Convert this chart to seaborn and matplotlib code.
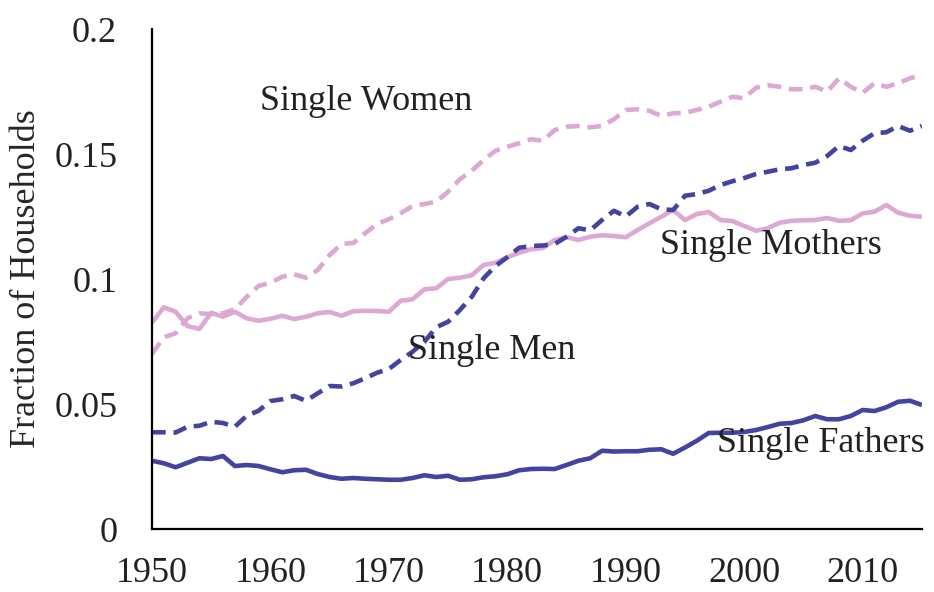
import matplotlib
matplotlib.use("Agg")
import matplotlib.pyplot as plt
import numpy as np
import pandas as pd
import seaborn as sns

# Values, one per year 1950-2015
years = list(range(1950, 2016))

single_fathers = [
    0.0273, 0.0263, 0.0247, 0.0265, 0.0283, 0.0280, 0.0292, 0.0252, 0.0256, 0.0252,
    0.0239, 0.0227, 0.0235, 0.0237, 0.0220, 0.0208, 0.0201, 0.0204, 0.0201, 0.0199,
    0.0197, 0.0197, 0.0204, 0.0215, 0.0208, 0.0213, 0.0197, 0.0199, 0.0207, 0.0211,
    0.0219, 0.0235, 0.0240, 0.0241, 0.0240, 0.0256, 0.0273, 0.0283, 0.0313, 0.0310,
    0.0311, 0.0311, 0.0317, 0.0319, 0.0301, 0.0326, 0.0353, 0.0384, 0.0385, 0.0385,
    0.0388, 0.0396, 0.0408, 0.0421, 0.0424, 0.0435, 0.0452, 0.0439, 0.0439, 0.0452,
    0.0476, 0.0472, 0.0487, 0.0509, 0.0513, 0.0496,
]

single_men = [
    0.0387, 0.0387, 0.0386, 0.0409, 0.0413, 0.0429, 0.0424, 0.0409, 0.0453, 0.0473,
    0.0512, 0.0519, 0.0532, 0.0513, 0.0543, 0.0572, 0.0570, 0.0583, 0.0603, 0.0625,
    0.0640, 0.0676, 0.0709, 0.0749, 0.0807, 0.0829, 0.0876, 0.0929, 0.1003, 0.1052,
    0.1087, 0.1125, 0.1132, 0.1134, 0.1140, 0.1169, 0.1203, 0.1195, 0.1236, 0.1273,
    0.1250, 0.1289, 0.1300, 0.1279, 0.1276, 0.1333, 0.1340, 0.1353, 0.1376, 0.1391,
    0.1404, 0.1420, 0.1429, 0.1439, 0.1443, 0.1456, 0.1465, 0.1492, 0.1532, 0.1516,
    0.1553, 0.1583, 0.1587, 0.1612, 0.1593, 0.1612,
]

single_mothers = [
    0.0825, 0.0887, 0.0869, 0.0812, 0.0800, 0.0865, 0.0849, 0.0869, 0.0843, 0.0833,
    0.0841, 0.0853, 0.0840, 0.0849, 0.0863, 0.0868, 0.0853, 0.0871, 0.0873, 0.0872,
    0.0869, 0.0913, 0.0919, 0.0959, 0.0963, 0.1000, 0.1005, 0.1015, 0.1056, 0.1065,
    0.1087, 0.1105, 0.1119, 0.1124, 0.1156, 0.1167, 0.1156, 0.1169, 0.1175, 0.1172,
    0.1167, 0.1196, 0.1223, 0.1249, 0.1276, 0.1236, 0.1260, 0.1268, 0.1236, 0.1232,
    0.1212, 0.1193, 0.1203, 0.1225, 0.1233, 0.1235, 0.1236, 0.1244, 0.1233, 0.1235,
    0.1263, 0.1269, 0.1296, 0.1265, 0.1253, 0.1249,
]

single_women = [
    0.0700, 0.0767, 0.0783, 0.0843, 0.0863, 0.0859, 0.0863, 0.0879, 0.0929, 0.0972,
    0.0985, 0.1009, 0.1019, 0.1005, 0.1036, 0.1096, 0.1140, 0.1144, 0.1183, 0.1220,
    0.1239, 0.1263, 0.1292, 0.1300, 0.1309, 0.1349, 0.1399, 0.1433, 0.1476, 0.1513,
    0.1529, 0.1543, 0.1559, 0.1553, 0.1596, 0.1609, 0.1612, 0.1607, 0.1612, 0.1639,
    0.1676, 0.1679, 0.1673, 0.1652, 0.1663, 0.1665, 0.1676, 0.1689, 0.1709, 0.1729,
    0.1723, 0.1765, 0.1775, 0.1769, 0.1759, 0.1759, 0.1769, 0.1749, 0.1803, 0.1769,
    0.1745, 0.1783, 0.1769, 0.1783, 0.1803, 0.1816,
]

y_ticks = [0, 0.05, 0.1, 0.15, 0.2]
y_tick_labels = ["0", "0.05", "0.1", "0.15", "0.2"]
x_ticks = [1950, 1960, 1970, 1980, 1990, 2000, 2010]

blue = "#4444a0"
pink = "#dda9d4"

sns.set_style("white")
plt.rcParams["font.family"] = ["Liberation Serif", "DejaVu Serif"]
plt.rcParams["text.color"] = "#222222"

df = pd.DataFrame({
    "year": years,
    "Single Fathers": single_fathers,
    "Single Men": single_men,
    "Single Mothers": single_mothers,
    "Single Women": single_women,
})

fig = plt.figure(figsize=(9.34, 5.92), dpi=100)
ax = fig.add_axes([0.1627, 0.1064, 0.8243, 0.8446])

dash = (3, 1.7)
lw = 3.3
sns.lineplot(data=df, x="year", y="Single Women", ax=ax, color=pink, lw=lw, dashes=dash)
sns.lineplot(data=df, x="year", y="Single Mothers", ax=ax, color=pink, lw=lw)
sns.lineplot(data=df, x="year", y="Single Men", ax=ax, color=blue, lw=lw, dashes=dash)
sns.lineplot(data=df, x="year", y="Single Fathers", ax=ax, color=blue, lw=lw)
for line in ax.get_lines():
    line.set_solid_capstyle("butt")

# Labels next to the lines
lab_kw = dict(fontsize=26, ha="left", va="center", color="#222222")
ax.text(1959.1, 0.1712, "Single Women", **lab_kw)
ax.text(1992.9, 0.1136, "Single Mothers", **lab_kw)
ax.text(1971.6, 0.0716, "Single Men", **lab_kw)
ax.text(1997.7, 0.0344, "Single Fathers", **lab_kw)

ax.set_xlim(1950, 2015)
ax.set_ylim(0, 0.2)
ax.set_xticks(x_ticks)
ax.set_yticks(y_ticks)
ax.set_yticklabels(y_tick_labels)
ax.set_xlabel("")
ax.set_ylabel("Fraction of Households", fontsize=26, labelpad=8)

ax.tick_params(axis="both", direction="in", length=9, width=1.3, labelsize=26, colors="black",
               labelcolor="#222222")
ax.tick_params(axis="x", pad=20)
ax.tick_params(axis="y", pad=25)

sns.despine(ax=ax)
for s in ["left", "bottom"]:
    ax.spines[s].set_linewidth(1.6)
    ax.spines[s].set_color("black")

fig.savefig("out.png", dpi=100)
